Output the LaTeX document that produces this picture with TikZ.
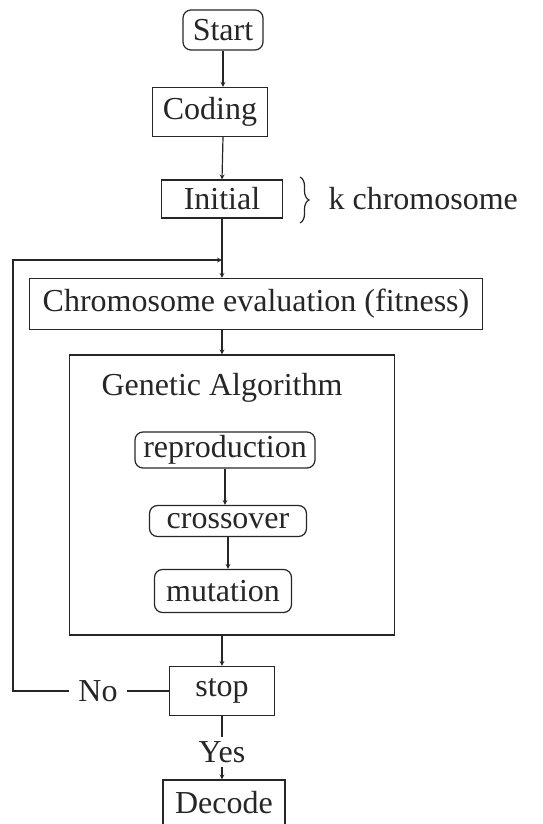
\documentclass[tikz,border=0pt]{standalone}
\usepackage{fontspec}
\setmainfont{Liberation Serif}
\usetikzlibrary{decorations.pathreplacing}

\begin{document}
\begin{tikzpicture}[>=stealth, x=1pt, y=-1pt, line width=1.2pt, black!85,
  txt/.style={inner sep=0pt, font=\fontsize{32}{38}\selectfont},
  box/.style={txt, draw},
  rbox/.style={box, rounded corners=8pt}]

\useasboundingbox (0,0) rectangle (542,824);
\clip (0,0) rectangle (542,824);

\node[rbox, minimum width=80, minimum height=40] (start) at (223,30) {Start};
\node[box, minimum width=115, minimum height=49] (coding) at (210,112) {Coding};
\node[box, minimum width=121, minimum height=38] (initial) at (222,199) {Initial};
\node[txt, anchor=west] (kchrom) at (328,199) {k chromosome};
\node[box, minimum width=453, minimum height=51] (eval) at (256,304) {Chromosome evaluation (fitness)};

\node[box, minimum width=325, minimum height=280] (ga) at (232,495) {};
\node[txt] (gatitle) at (222,388) {Genetic Algorithm};
\node[rbox, minimum width=180, minimum height=36] (repro) at (225,450) {reproduction};
\node[rbox, minimum width=157, minimum height=31] (cross) at (228,521) {crossover};
\node[rbox, minimum width=137, minimum height=43] (mut) at (223,591) {mutation};

\node[box, minimum width=105, minimum height=49] (stop) at (222,691) {stop};
\node[txt, inner xsep=9pt] (no) at (98,691) {No};
\node[txt, inner sep=4pt] (yes) at (222,752) {Yes};
\node[box, minimum width=122, minimum height=46] (decode) at (224,803) {Decode};

\coordinate (ltop) at (13,260);
\coordinate (lbot) at (13,691);

\draw[decorate, decoration={brace, amplitude=9pt}] (300,177) -- (300,223);

\draw[->] (start.south) -- (start.south |- coding.north);
\draw[->] (start.south |- coding.south) -- (initial.north);
\draw[->] (initial.south) -- (initial.south |- eval.north);
\draw[->] (no.west) -- (lbot) -- (ltop) -- (initial.south |- ltop);
\draw[->] (initial.south |- eval.south) -- (initial.south |- ga.north);
\draw[->] (repro.south) -- (repro.south |- cross.north);
\draw[->] (cross.south) -- (cross.south |- mut.north);
\draw[->] (stop.north |- ga.south) -- (stop.north);
\draw (stop.west) -- (no.east);
\draw (stop.south) -- (yes.north);
\draw[->] (yes.south) -- (yes.south |- decode.north);
\end{tikzpicture}
\end{document}
